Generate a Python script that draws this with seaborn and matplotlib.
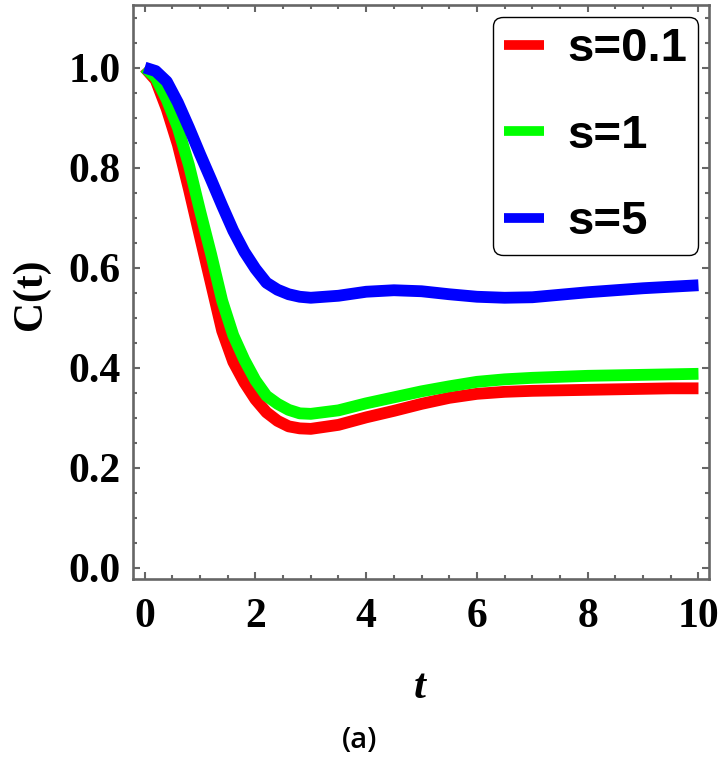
import numpy as np
import pandas as pd
import seaborn as sns
import matplotlib.pyplot as plt
from matplotlib.ticker import MultipleLocator

# values
t = [0, 0.2, 0.4, 0.6, 0.8, 1.0, 1.2, 1.4, 1.6, 1.8, 2.0, 2.2, 2.4, 2.6, 2.8,
     3.0, 3.5, 4.0, 4.5, 5.0, 5.5, 6.0, 6.5, 7.0, 7.5, 8.0, 8.5, 9.0, 9.5, 10.0]

c_s01 = [1.0, 0.975, 0.917, 0.846, 0.757, 0.662, 0.568, 0.474, 0.412, 0.371,
         0.337, 0.311, 0.294, 0.283, 0.279, 0.278, 0.286, 0.301, 0.314, 0.328,
         0.340, 0.348, 0.352, 0.354, 0.355, 0.356, 0.357, 0.358, 0.359, 0.359]
c_s1 = [1.0, 0.98, 0.936, 0.88, 0.805, 0.714, 0.627, 0.534, 0.465, 0.416,
        0.375, 0.344, 0.328, 0.316, 0.309, 0.308, 0.315, 0.329, 0.341, 0.353,
        0.363, 0.372, 0.377, 0.380, 0.382, 0.384, 0.385, 0.386, 0.387, 0.388]
c_s5 = [1.0, 0.993, 0.972, 0.93, 0.88, 0.827, 0.776, 0.724, 0.674, 0.632,
        0.598, 0.570, 0.556, 0.547, 0.542, 0.540, 0.544, 0.552, 0.555, 0.553,
        0.547, 0.542, 0.540, 0.541, 0.546, 0.551, 0.555, 0.559, 0.562, 0.565]

labels = ["s=0.1", "s=1", "s=5"]
colors = ["#ff0000", "#00ff00", "#0000ff"]

df = pd.concat([
    pd.DataFrame({"t": t, "C": c, "s": lab})
    for c, lab in zip([c_s01, c_s1, c_s5], labels)
], ignore_index=True)

sns.set_style("ticks")
plt.rcParams["font.family"] = ["Liberation Serif", "DejaVu Serif"]
plt.rcParams["text.color"] = "black"
plt.rcParams["xtick.labelcolor"] = "black"
plt.rcParams["ytick.labelcolor"] = "black"

fig = plt.figure(figsize=(7.2, 7.57), dpi=100)
ax = fig.add_axes([133 / 720, 1 - 579 / 757, (709 - 133) / 720, (579 - 5) / 757])

sns.lineplot(data=df, x="t", y="C", hue="s", hue_order=labels,
             palette=dict(zip(labels, colors)), linewidth=8.5,
             solid_capstyle="butt", solid_joinstyle="round", ax=ax, legend=True)

ax.set_xlim(-0.21, 10.19)
ax.set_ylim(-0.022, 1.125)
ax.xaxis.set_major_locator(MultipleLocator(2))
ax.xaxis.set_minor_locator(MultipleLocator(0.5))
ax.yaxis.set_major_locator(MultipleLocator(0.2))
ax.yaxis.set_minor_locator(MultipleLocator(0.05))
ax.yaxis.set_major_formatter(plt.FuncFormatter(lambda v, p: f"{v:.1f}"))

for sp in ax.spines.values():
    sp.set_color("#666666")
    sp.set_linewidth(1.9)

ax.tick_params(which="both", direction="in", top=True, right=True,
               color="#666666", width=1.5, labelcolor="black")
ax.tick_params(which="major", length=5)
ax.tick_params(which="minor", length=3)
ax.tick_params(axis="x", which="major", pad=14)
ax.tick_params(axis="y", which="major", pad=9)
for lab in ax.get_xticklabels() + ax.get_yticklabels():
    lab.set_fontsize(30)
    lab.set_fontweight("bold")
    lab.set_color("black")

ax.set_xlabel("")
ax.set_ylabel("")
fig.text(420 / 720, 1 - 688 / 757, "t", fontsize=31, fontweight="bold",
         fontstyle="italic", ha="center", va="center", color="black")
fig.text(31 / 720, 1 - 294 / 757, "C(t)", fontsize=30, fontweight="bold",
         rotation=90, ha="center", va="center", color="black")
fig.text(360 / 720, 1 - 740 / 757, "(a)", fontsize=21, fontweight="semibold",
         ha="center", va="center", family=["Open Sans", "DejaVu Sans"],
         color="black")

handles, _ = ax.get_legend_handles_labels()
leg = ax.legend(handles, labels, loc="upper right",
                bbox_to_anchor=(698 / 720, 1 - 17 / 757),
                bbox_transform=fig.transFigure, borderaxespad=0,
                prop={"family": "Liberation Sans", "weight": "bold", "size": 34},
                handlelength=0.85, handletextpad=0.5, labelspacing=0.9,
                borderpad=0.22, fancybox=True, framealpha=1, edgecolor="black")
leg.get_frame().set_linewidth(1.0)
for ln in leg.get_lines():
    ln.set_linewidth(7)
for txt in leg.get_texts():
    txt.set_color("black")

fig.savefig("out.png", dpi=100)
